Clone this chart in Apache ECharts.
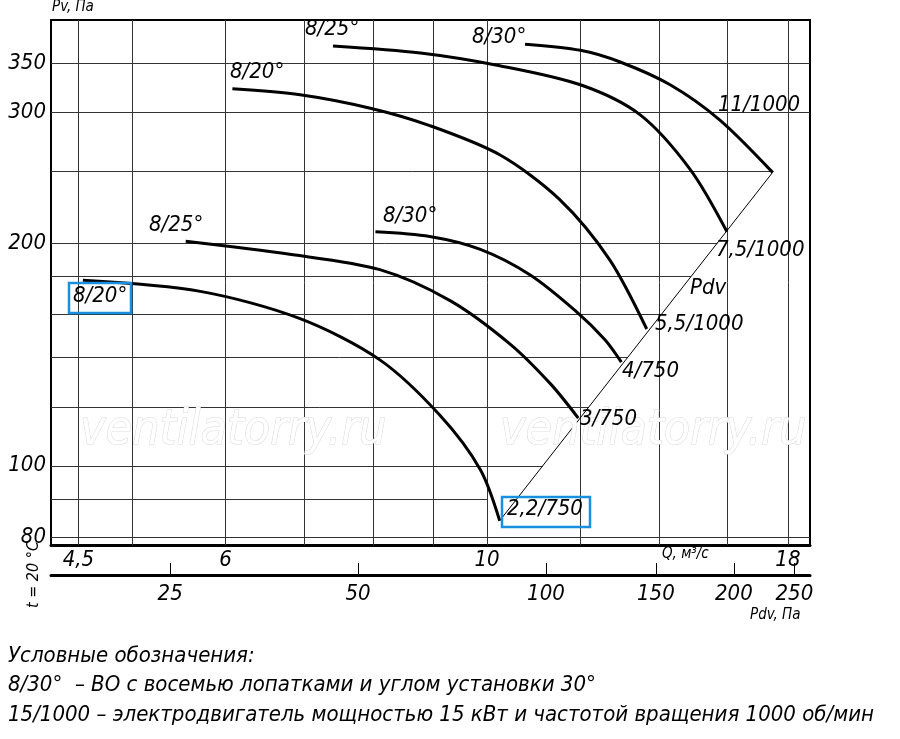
<!DOCTYPE html>
<html>
<head>
<meta charset="utf-8">
<script src="https://cdn.jsdelivr.net/npm/echarts@6/dist/echarts.min.js"></script>
<style>html,body{margin:0;padding:0;background:#fff}#main{width:900px;height:739px}</style>
</head>
<body>
<div id="main"></div>
<script>
// Q, m3/s and Pv, Pa
var c22_750 = [[4.54,178],[5.71,172],[6.94,158],[8.11,139],[9.12,117],[9.87,98.8],[10.25,84.3]]
var c3_750 = [[5.55,201],[6.80,193],[8.11,184],[9.31,167],[10.46,146],[11.32,129],[11.95,116]]
var c4_750 = [[8.04,207],[8.94,204],[9.87,196],[10.88,181],[11.88,162],[12.59,148],[13.0,138]]
var c55_1000 = [[6.08,323],[6.94,317],[7.96,304],[8.94,288],[10.25,263],[11.52,229],[12.70,190],[13.66,153]]
var c75_1000 = [[7.40,369],[8.78,361],[10.25,347],[12.0,327],[13.48,298],[14.88,251],[15.98,207]]
var c11_1000 = [[10.77,371],[12.0,364],[12.97,351],[14.30,327],[15.76,293],[17.47,249]]
var pdvLine = [[10.25,84.3],[17.47,249]]

var qTicks = [4.5,6,10,18]
var qGrid = [4.5,5,6,7,8,9,10,12,14,16,18]
var pTicks = [80,100,200,300,350]
var pGrid = [80,90,100,120,140,160,180,200,250,300,350]
var pGridEnd = [null,10,null,null,null,null,null,null,null,null,null]
var pdvTicks = [25,50,100,150,200,250]

var FONT = "'DejaVu Sans Condensed','Liberation Sans Narrow',sans-serif"
var lg = Math.log10
var xMin = 0.630, xMax = 1.274, yMin = 1.893, yMax = 2.602

function toLog(arr){ return arr.map(function(p){ return [lg(p[0]), lg(p[1])] }) }
function fmt(v){ return String(Math.round(Math.pow(10,v)*10)/10).replace('.', ',') }

// Q on the Pdv line for a given pressure
function pdvQ(p){
    var a = toLog(pdvLine)
    var k = (a[1][1]-a[0][1])/(a[1][0]-a[0][0])
    return a[0][0] + (lg(p)-a[0][1])/k
}

var grid = []
qGrid.forEach(function(q){
    grid.push([{coord:[lg(q),yMin]},{coord:[lg(q),yMax]}])
})
pGrid.forEach(function(p,i){
    var end = xMax
    if (pGridEnd[i]) end = lg(pGridEnd[i])
    else if (p > 84.3 && p < 260) end = Math.min(xMax, pdvQ(p))
    grid.push([{coord:[xMin,lg(p)]},{coord:[end,lg(p)]}])
})

var curves = [c22_750,c3_750,c4_750,c55_1000,c75_1000,c11_1000]
var series = [{
    type:'line', data:[], silent:true,
    markLine:{silent:true, symbol:'none', label:{show:false},
        lineStyle:{color:'#333', width:1, type:'solid'}, data:grid}
}]
curves.forEach(function(c){
    series.push({type:'line', data:toLog(c), smooth:0.3, showSymbol:false, z:5,
        lineStyle:{color:'#000', width:3}})
})
series.push({type:'line', data:toLog(pdvLine), showSymbol:false, z:5, lineStyle:{color:'#000', width:1}})

function txt(x,y,s,size,extra){
    var st = {text:s, x:x, y:y, fill:'#000', font:'italic '+(size||22)+'px '+FONT}
    for (var k in extra) st[k]=extra[k]
    return {type:'text', style:st, z:10}
}
var wm = {fill:'#fff', stroke:'#d8d8d8', lineWidth:1}
var labels = [
    txt(80,408,'ventilatorry.ru',48,wm), txt(500,408,'ventilatorry.ru',48,wm),
    txt(305,18,'8/25°'), txt(472,26,'8/30°'), txt(230,61,'8/20°'), txt(718,94,'11/1000'),
    txt(149,214,'8/25°'), txt(383,205,'8/30°'), txt(716,239,'7,5/1000'), txt(690,277,'Pdv'),
    txt(73,285,'8/20°'), txt(655,313,'5,5/1000'), txt(622,360,'4/750'), txt(580,408,'3/750'),
    txt(507,498,'2,2/750'),
    txt(52,0,'Pv, Па',15), txt(662,547,'Q, м³/с',15), txt(750,608,'Pdv, Па',15),
    {type:'text', x:26, y:608, rotation:Math.PI/2, style:{text:'t = 20 °C', fill:'#000', font:'italic 16px '+FONT}},
    txt(8,645,'Условные обозначения:'),
    txt(8,674,'8/30°  – ВО с восемью лопатками и углом установки 30°'),
    txt(8,704,'15/1000 – электродвигатель мощностью 15 кВт и частотой вращения 1000 об/мин'),
    {type:'rect', shape:{x:69,y:283,width:62,height:30}, style:{fill:'none', stroke:'#1a8fe0', lineWidth:2.5}, z:11},
    {type:'rect', shape:{x:502,y:497,width:88,height:30}, style:{fill:'none', stroke:'#1a8fe0', lineWidth:2.5}, z:11}
]

var myChart = echarts.init(document.getElementById('main'))
var option = {
    animation:false,
    grid:{left:51, right:90, top:20, bottom:194, show:true, borderColor:'#000', borderWidth:2},
    xAxis:[{
        type:'value', min:xMin, max:xMax, position:'bottom',
        axisLine:{lineStyle:{color:'#000', width:3}}, axisTick:{show:false}, splitLine:{show:false},
        axisLabel:{customValues:qTicks.map(lg), formatter:fmt, color:'#000', fontSize:22,
            fontStyle:'italic', fontFamily:FONT, margin:4}
    },{
        type:'value', min:1.207, max:2.423, position:'bottom', offset:30,
        axisLine:{onZero:false, lineStyle:{color:'#000', width:3}},
        axisTick:{customValues:pdvTicks.map(lg), inside:true, length:12, lineStyle:{color:'#000'}},
        splitLine:{show:false},
        axisLabel:{customValues:pdvTicks.map(lg), formatter:fmt, color:'#000', fontSize:22,
            fontStyle:'italic', fontFamily:FONT, margin:8}
    }],
    yAxis:{
        type:'value', min:yMin, max:yMax,
        axisLine:{show:false}, axisTick:{show:false}, splitLine:{show:false},
        axisLabel:{customValues:pTicks.map(lg), formatter:fmt, color:'#000', fontSize:22,
            fontStyle:'italic', fontFamily:FONT, margin:5}
    },
    series:series,
    graphic:labels
}
myChart.setOption(option)
</script>
</body>
</html>
